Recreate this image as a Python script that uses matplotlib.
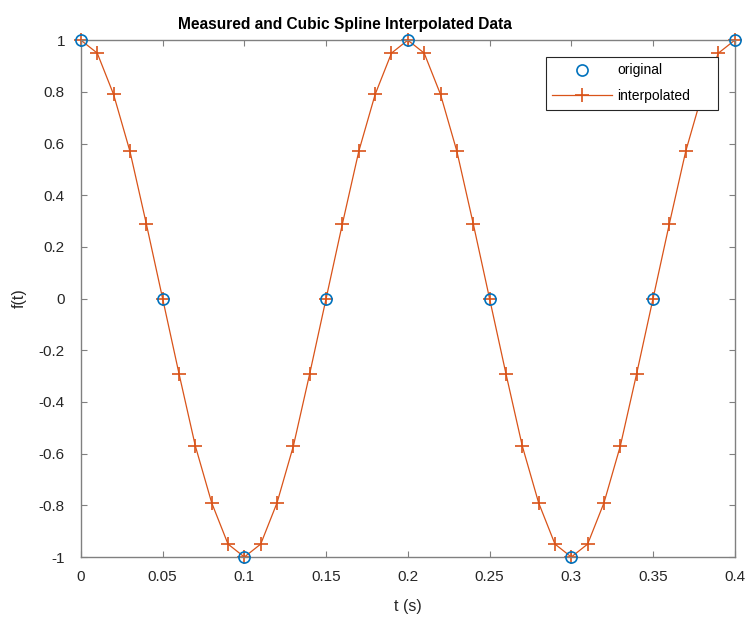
import numpy as np
import matplotlib
matplotlib.use('Agg')
from matplotlib import pyplot as plt

plt.rcParams['font.family'] = ['Liberation Sans', 'DejaVu Sans']

# measured samples
t_orig = [0, 0.05, 0.1, 0.15, 0.2, 0.25, 0.3, 0.35, 0.4]
f_orig = [1, 0, -1, 0, 1, 0, -1, 0, 1]

# cubic spline values at 0.01 s steps
t_interp = [round(0.01 * i, 2) for i in range(41)]
f_interp = [1, 0.95, 0.79, 0.57, 0.29, 0, -0.29, -0.57, -0.79, -0.95,
            -1, -0.95, -0.79, -0.57, -0.29, 0, 0.29, 0.57, 0.79, 0.95,
            1, 0.95, 0.79, 0.57, 0.29, 0, -0.29, -0.57, -0.79, -0.95,
            -1, -0.95, -0.79, -0.57, -0.29, 0, 0.29, 0.57, 0.79, 0.95,
            1]

blue = '#0072BD'
orange = '#D95319'
txt = '#262626'
axc = '#808080'

fig = plt.figure(figsize=(7.49, 6.18), dpi=100)
ax = fig.add_axes([0.108, 0.0987, 0.873, 0.8363])

ax.plot(t_orig, f_orig, 'o', mfc='none', mec=blue, ms=8, mew=1.2,
        label='original', zorder=3, clip_on=False)
ax.plot(t_interp, f_interp, '-+', color=orange, lw=0.9, ms=9.5, mew=1.2,
        label='interpolated', zorder=2, clip_on=False)

ax.set_xlim(0, 0.4)
ax.set_ylim(-1, 1)
ax.set_xticks(np.arange(0, 0.41, 0.05))
ax.set_xticklabels(['0', '0.05', '0.1', '0.15', '0.2', '0.25', '0.3', '0.35', '0.4'])
ax.set_yticks(np.arange(-1, 1.01, 0.2))
ax.set_yticklabels(['-1', '-0.8', '-0.6', '-0.4', '-0.2', '0',
                    '0.2', '0.4', '0.6', '0.8', '1'])
ax.tick_params(direction='in', top=True, right=True, length=4.5,
               color=axc, labelcolor=txt, labelsize=11)
ax.tick_params(axis='x', pad=9)
ax.tick_params(axis='y', pad=11.5)
for s in ax.spines.values():
    s.set_color(axc)
    s.set_linewidth(1.0)

ax.set_xlabel('t (s)', fontsize=11.5, color=txt, labelpad=11.5)
ax.set_ylabel('f(t)', fontsize=11.5, color=txt, labelpad=9)
fig.text(0.4606, 0.953, 'Measured and Cubic Spline Interpolated Data',
         fontsize=11.2, fontweight='bold', color='black',
         ha='center', va='baseline')

# legend box: 546-718 px wide, 57-110 px tall
leg = ax.legend(loc='upper left', bbox_to_anchor=(0.711, 0.864, 0.263, 0.103),
                mode='expand', borderaxespad=0,
                fancybox=False, framealpha=1, edgecolor='#262626',
                fontsize=10, handlelength=4.3, handletextpad=0.4,
                borderpad=0.45, labelspacing=0.85)
leg.get_frame().set_linewidth(0.8)

fig.savefig('out.png', dpi=100)
